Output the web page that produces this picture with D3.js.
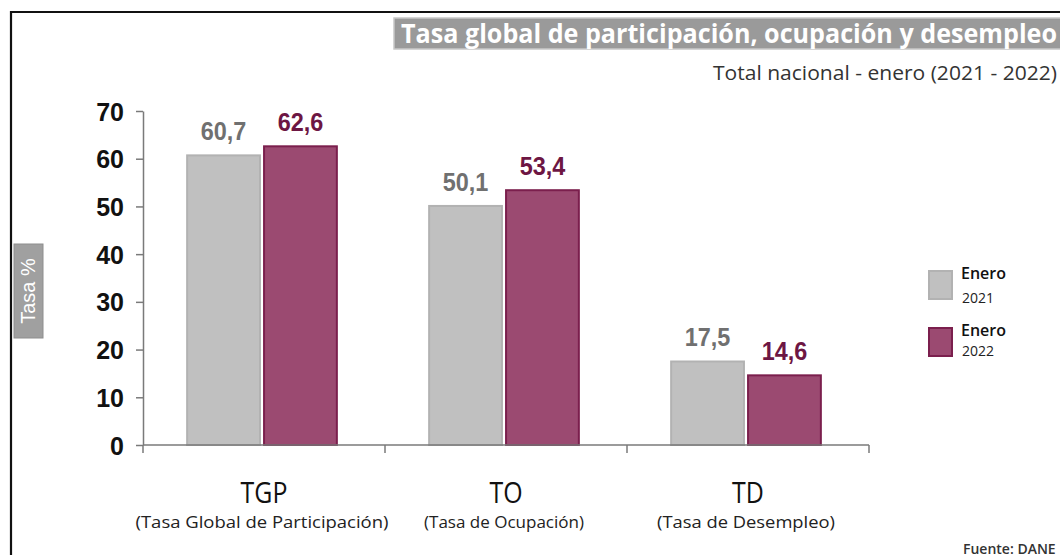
<!DOCTYPE html>
<html><head><meta charset="utf-8">
<script src="https://cdn.jsdelivr.net/npm/d3@7/dist/d3.min.js"></script>
<style>body{margin:0;background:#fff}svg{display:block}</style>
</head><body>
<svg id="c" width="1060" height="555"></svg>
<script>
const categories = ["TGP","TO","TD"];
const categoryNames = ["(Tasa Global de Participación)","(Tasa de Ocupación)","(Tasa de Desempleo)"];
const series = ["Enero 2021","Enero 2022"];
const values2021 = [60.7, 50.1, 17.5];
const values2022 = [62.6, 53.4, 14.6];
const labels2021 = ["60,7","50,1","17,5"];
const labels2022 = ["62,6","53,4","14,6"];
const yTicks = [0,10,20,30,40,50,60,70];
const title = "Tasa global de participación, ocupación y desempleo";
const subtitle = "Total nacional - enero (2021 - 2022)";
const yLabel = "Tasa %";
const source = "Fuente: DANE";

const fills = ["#c0c0c0","#9b4a71"];
const strokes = ["#b2b2b2","#7b1f4d"];
const labelColors = ["#707070","#6d1643"];

const svg = d3.select("#c");
svg.append("path").attr("d","M11,555 L11,12 L1060,12").attr("fill","none").attr("stroke","#111").attr("stroke-width",2.2);

svg.append("rect").attr("x",394).attr("y",18).attr("width",670).attr("height",31)
  .attr("fill","#9a9a9a").attr("stroke","#c8c8c8").attr("stroke-width",1.5);
svg.append("text").attr("x",401).attr("y",43).text(title)
  .attr("font-family","'Open Sans', sans-serif").attr("font-weight",700).attr("font-size",27)
  .attr("fill","#fff").attr("textLength",656).attr("lengthAdjust","spacingAndGlyphs");
svg.append("text").attr("x",1057).attr("y",80).attr("text-anchor","end").text(subtitle)
  .attr("font-family","'Open Sans', sans-serif").attr("font-size",20)
  .attr("fill","#333").attr("textLength",344).attr("lengthAdjust","spacingAndGlyphs");

const y = d3.scaleLinear().domain([0,70]).range([445,111]);
const x0 = d3.scaleBand().domain(categories).range([143,869]).paddingInner(0).paddingOuter(0);
const x1 = d3.scaleBand().domain(series).range([0,x0.bandwidth()]).paddingInner(0.0533).paddingOuter(0.6);

const yAxis = svg.append("g").attr("transform","translate(143,0)")
  .call(d3.axisLeft(y).tickValues(yTicks).tickSize(7).tickSizeOuter(0).tickPadding(12).tickFormat(d3.format("d")));
yAxis.select(".domain").attr("stroke","#7a7a7a").attr("stroke-width",1.5);
yAxis.selectAll(".tick line").attr("stroke","#7a7a7a").attr("stroke-width",1.5);
yAxis.selectAll(".tick text").attr("font-family","'Liberation Sans', Arial, sans-serif")
  .attr("font-weight",700).attr("font-size",25).attr("fill","#111").attr("dy","0.36em");

const data = categories.map((c,i)=>({c, vals:[values2021[i],values2022[i]], labs:[labels2021[i],labels2022[i]]}));
const g = svg.append("g");
data.forEach(d=>{
  d.vals.forEach((v,j)=>{
    const bx = x0(d.c)+x1(series[j]) - 2;
    g.append("rect").attr("x",bx).attr("y",y(v)).attr("width",x1.bandwidth()).attr("height",y(0)-y(v))
      .attr("fill",fills[j]).attr("stroke",strokes[j]).attr("stroke-width",2);
    const tx = bx+x1.bandwidth()/2;
    g.append("text").attr("x",tx).attr("y",y(v)-15).attr("text-anchor","middle")
      .text(d.labs[j]).attr("font-family","'Liberation Sans', Arial, sans-serif").attr("font-weight",700)
      .attr("font-size",26).attr("fill",labelColors[j])
      .attr("transform",`translate(${tx},0) scale(0.9,1) translate(${-tx},0)`);
  });
});

const xb = [x0.range()[0]].concat(categories.map(c=>x0(c)+x0.bandwidth()));
svg.append("line").attr("x1",xb[0]).attr("x2",xb[xb.length-1]).attr("y1",y(0)).attr("y2",y(0))
  .attr("stroke","#7a7a7a").attr("stroke-width",1.5);
svg.selectAll(".xt").data(xb).enter().append("line").attr("x1",d=>d).attr("x2",d=>d)
  .attr("y1",y(0)).attr("y2",y(0)+8).attr("stroke","#7a7a7a").attr("stroke-width",1.5);

const catW = [253,160,178];
categories.forEach((c,i)=>{
  const cx = x0(c)+x0.bandwidth()/2;
  svg.append("text").attr("x",cx).attr("y",503).attr("text-anchor","middle").text(c)
    .attr("font-family","'Open Sans', sans-serif").attr("font-size",29).attr("fill","#111")
    .attr("transform",`translate(${cx},0) scale(0.86,1) translate(${-cx},0)`);
  svg.append("text").attr("x",cx-2).attr("y",528).attr("text-anchor","middle").text(categoryNames[i])
    .attr("font-family","'Open Sans', sans-serif").attr("font-size",17).attr("fill","#222")
    .attr("textLength",catW[i]).attr("lengthAdjust","spacingAndGlyphs");
});

svg.append("rect").attr("x",14).attr("y",244).attr("width",29).attr("height",94).attr("fill","#a0a0a0").attr("stroke","#8e8e8e");
svg.append("text").attr("transform","translate(35,291) rotate(-90)").attr("text-anchor","middle").text(yLabel)
  .attr("font-family","'Liberation Sans', Arial, sans-serif").attr("font-size",20).attr("fill","#fff");

series.forEach((s,j)=>{
  const ly = 271 + j*57;
  svg.append("rect").attr("x",929).attr("y",ly).attr("width",23).attr("height",28)
    .attr("fill",fills[j]).attr("stroke",strokes[j]).attr("stroke-width",2);
  const parts = s.split(" ");
  svg.append("text").attr("x",961).attr("y",ly+8).text(parts[0])
    .attr("font-family","'Open Sans', sans-serif").attr("font-size",16).attr("font-weight",600).attr("fill","#111");
  svg.append("text").attr("x",962).attr("y",ly+(j===0?32:28)).text(parts[1])
    .attr("font-family","'Open Sans', sans-serif").attr("font-size",14).attr("fill","#222");
});

svg.append("text").attr("x",963).attr("y",554).text(source)
  .attr("font-family","'Open Sans', sans-serif").attr("font-size",14).attr("font-weight",600).attr("fill","#333");
</script>
</body></html>
